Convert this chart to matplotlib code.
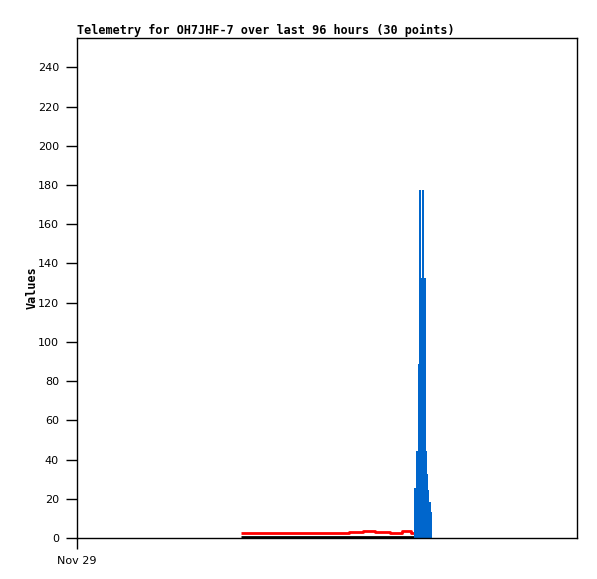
import matplotlib
matplotlib.use("Agg")
import matplotlib.pyplot as plt

# hours since Nov 29 00:00
black_t = [31.5, 67.9]
black_v = [0.4, 0.4]

red_t = [31.5, 52.3, 52.3, 55.0, 55.0, 57.2, 57.2, 60.0, 60.0, 62.4, 62.4, 64.1, 64.1, 65.1, 65.1, 67.9]
red_v = [2.6, 2.6, 3.1, 3.1, 3.6, 3.6, 3.1, 3.1, 2.6, 2.6, 3.6, 3.6, 2.6, 2.6, 3.6, 3.6]

# blue spikes: each reading jumps up from 0 and back
blue_t = [64.99, 65.28, 65.57, 65.82, 66.14, 66.47, 66.72, 66.97, 67.22, 67.47, 67.72, 67.97]
blue_v = [25, 44, 88, 177, 132, 177, 132, 44, 32, 24, 18, 13]

title = "Telemetry for OH7JHF-7 over last 96 hours (30 points)"

fig = plt.figure(figsize=(5.97, 5.79), dpi=100)
ax = fig.add_axes([77/597, 41/579, 500/597, 500/579])

ax.plot(black_t, black_v, color="black", lw=2, solid_capstyle="butt")
ax.plot(red_t, red_v, color="#ff0000", lw=2, solid_capstyle="butt")

bx, by = [], []
for t, v in zip(blue_t, blue_v):
    bx += [t, t, t]
    by += [0, v, 0]
ax.plot(bx, by, color="#0066cc", lw=1.3, solid_capstyle="butt", antialiased=False)

ax.set_xlim(0, 96)
ax.set_ylim(0, 255)
ax.set_yticks(range(0, 241, 20))
ax.set_xticks([0])
ax.set_xticklabels(["Nov 29"])
ax.tick_params(axis="both", direction="out", length=8, width=1, labelsize=8, pad=5)
for s in ax.spines.values():
    s.set_linewidth(1)

ax.set_ylabel("Values", family="DejaVu Sans Mono", fontweight="bold", fontsize=8.5, labelpad=-1)
ax.set_title(title, family="DejaVu Sans Mono", fontweight="bold", fontsize=8.45, loc="left", pad=3)

fig.savefig("out.png", dpi=100)
